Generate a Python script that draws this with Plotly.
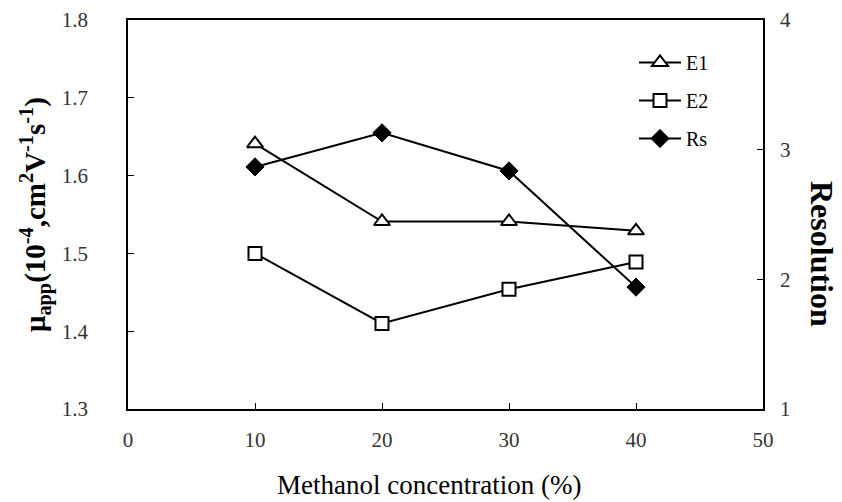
import plotly.graph_objects as go

concentration = [10, 20, 30, 40]
e1_mobility = [1.641, 1.541, 1.541, 1.529]
e2_mobility = [1.500, 1.410, 1.454, 1.489]
rs_resolution = [2.867, 3.13, 2.836, 1.94]

x_ticks = [0, 10, 20, 30, 40, 50]
left_ticks = [1.3, 1.4, 1.5, 1.6, 1.7, 1.8]
left_tick_labels = ["1.3", "1.4", "1.5", "1.6", "1.7", "1.8"]
right_ticks = [1, 2, 3, 4]

SERIF = "Liberation Serif"
TICKFONT = dict(family=SERIF, size=21, color="#333333")

# plot area in page pixels (page has an 8px body margin)
PL, PR, PT, PB = 128, 763, 20, 409
OFF = 8


def px_x(px):
    return (px - PL) / (PR - PL)


def px_y(py):
    return (PB - py) / (PB - PT)


fig = go.Figure()

fig.add_trace(go.Scatter(
    x=concentration, y=e1_mobility, name="E1", mode="lines+markers",
    line=dict(color="black", width=2),
    marker=dict(symbol="triangle-up", size=14, color="white",
                line=dict(color="black", width=2)),
    legendgroup="g1", yaxis="y"))
fig.add_trace(go.Scatter(
    x=concentration, y=e2_mobility, name="E2", mode="lines+markers",
    line=dict(color="black", width=2),
    marker=dict(symbol="square", size=13, color="white",
                line=dict(color="black", width=2)),
    legendgroup="g2", yaxis="y"))
fig.add_trace(go.Scatter(
    x=concentration, y=rs_resolution, name="Rs", mode="lines+markers",
    line=dict(color="black", width=2),
    marker=dict(symbol="diamond", size=14, color="black",
                line=dict(color="black", width=1)),
    legendgroup="g3", yaxis="y2"))

fig.update_layout(
    width=842, height=502,
    margin=dict(l=PL - OFF, r=842 + OFF - PR, t=PT - OFF, b=502 + OFF - PB,
                autoexpand=False),
    paper_bgcolor="white", plot_bgcolor="white",
    showlegend=True,
    legend=dict(x=px_x(634), y=px_y(43), xanchor="left", yanchor="top",
                bgcolor="rgba(0,0,0,0)", traceorder="grouped",
                tracegroupgap=9, itemwidth=42,
                font=dict(family=SERIF, size=20, color="black")),
    xaxis=dict(range=[0, 50], tickvals=x_ticks, ticktext=[str(v) for v in x_ticks],
               showgrid=False, zeroline=False, showline=True, mirror=True,
               linecolor="black", linewidth=1.5,
               ticks="inside", ticklen=6, tickcolor="black", tickwidth=1,
               tickfont=TICKFONT, ticklabelstandoff=11),
    yaxis=dict(range=[1.3, 1.8], tickvals=left_ticks, ticktext=left_tick_labels,
               showgrid=False, zeroline=False, showline=True, mirror=True,
               linecolor="black", linewidth=1.5,
               ticks="inside", ticklen=6, tickcolor="black", tickwidth=1,
               tickfont=TICKFONT, ticklabelstandoff=34),
    yaxis2=dict(range=[1, 4], tickvals=right_ticks, ticktext=[str(v) for v in right_ticks],
                overlaying="y", side="right",
                showgrid=False, zeroline=False, showline=False,
                ticks="inside", ticklen=6, tickcolor="black", tickwidth=1,
                tickfont=TICKFONT, ticklabelstandoff=16),
)

fig.add_annotation(
    text="Methanol concentration (%)",
    xref="paper", yref="paper", x=px_x(429), y=px_y(485),
    xanchor="center", yanchor="middle", showarrow=False,
    font=dict(family=SERIF, size=27, color="black"))
fig.add_annotation(
    text="<b>μ<sub>app</sub>(10<sup>-4</sup>,cm<sup>2</sup>V<sup>-1</sup>s<sup>-1</sup>)</b>",
    xref="paper", yref="paper", x=px_x(36), y=px_y(215),
    xanchor="center", yanchor="middle", textangle=-90, showarrow=False,
    font=dict(family=SERIF, size=29, color="black"))
fig.add_annotation(
    text="<b>Resolution</b>",
    xref="paper", yref="paper", x=px_x(822), y=px_y(254),
    xanchor="center", yanchor="middle", textangle=90, showarrow=False,
    font=dict(family=SERIF, size=32, color="black"))

fig.write_html("out.html")
